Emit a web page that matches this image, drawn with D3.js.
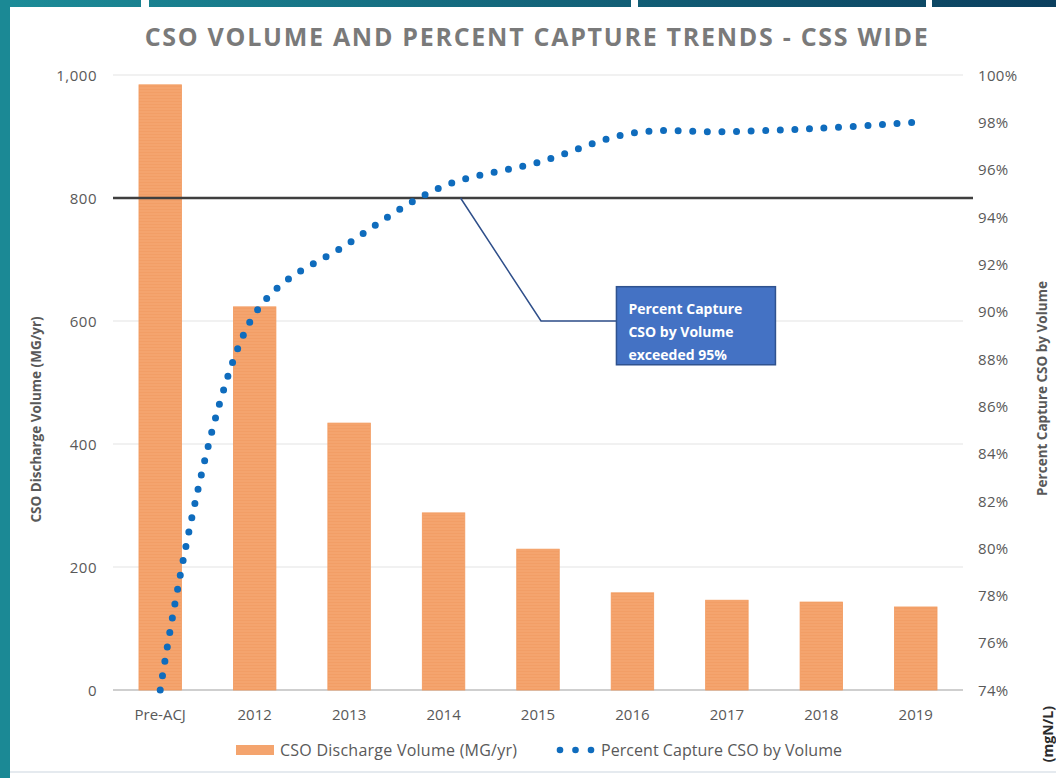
<!DOCTYPE html>
<html>
<head>
<meta charset="utf-8">
<script src="https://cdn.jsdelivr.net/npm/d3@7"></script>
<style>
  html, body { margin: 0; padding: 0; background: #fff; }
  svg text { font-family: 'Open Sans', sans-serif; }
</style>
</head>
<body>
<div id="root"></div>
<script>
// Data
const categories = ['Pre-ACJ', '2012', '2013', '2014', '2015', '2016', '2017', '2018', '2019'];
const volume = [984, 623, 434, 288, 229, 158, 146, 143, 135];
const capture = [74.0, 89.9, 92.9, 95.3, 96.3, 97.55, 97.6, 97.75, 98.0];
const volumeTicks = [0, 200, 400, 600, 800, 1000];
const captureTicks = [74, 76, 78, 80, 82, 84, 86, 88, 90, 92, 94, 96, 98, 100];
const thresholdVolume = 800;

// Variables
const width = 1056;
const height = 778;
const plot = { left: 113, right: 963, top: 75, bottom: 690 };
const barColor = '#f4a46e';
const dotColor = '#0f6cbd';
const textColor = '#595959';

const svg = d3.select('#root')
  .append('svg')
  .attr('width', width)
  .attr('height', height);

/**
 * Spread a text's letters so that it fills the given width
 */
function fitWidth(sel, target) {
  const len = sel.node().getComputedTextLength();
  const n = sel.text().length - 1;
  sel.style('letter-spacing', ((target - len) / n) + 'px');
}

// Scales
const x = d3.scaleBand()
  .domain(categories)
  .range([plot.left, plot.right])
  .paddingInner(0.55)
  .paddingOuter(0.275);
const xc = d => x(d) + x.bandwidth() / 2;

const yLeft = d3.scaleLinear().domain([0, 1000]).range([plot.bottom, plot.top]);
const yRight = d3.scaleLinear().domain([74, 100]).range([plot.bottom, plot.top]);

// Frame around the slide
const defs = svg.append('defs');
const grad = defs.append('linearGradient').attr('id', 'topbar');
grad.append('stop').attr('offset', '0%').attr('stop-color', '#1c8c98');
grad.append('stop').attr('offset', '100%').attr('stop-color', '#0b3f5e');

svg.append('rect').attr('x', 0).attr('y', 0).attr('width', width).attr('height', 7).attr('fill', 'url(#topbar)');
[[141, 8], [631, 7], [926, 6]].forEach(([gx, gw]) => {
  svg.append('rect').attr('x', gx).attr('y', 0).attr('width', gw).attr('height', 7).attr('fill', '#fff');
});
svg.append('rect').attr('x', 0).attr('y', 0).attr('width', 10).attr('height', height).attr('fill', '#1b8995');
svg.append('line')
  .attr('x1', 10).attr('x2', width).attr('y1', 772).attr('y2', 772)
  .attr('stroke', '#dde3ea').attr('stroke-width', 1.5);

// Bar texture
const pat = defs.append('pattern')
  .attr('id', 'stripes')
  .attr('patternUnits', 'userSpaceOnUse')
  .attr('width', 8).attr('height', 3);
pat.append('rect').attr('width', 8).attr('height', 3).attr('fill', barColor);
pat.append('rect').attr('y', 2).attr('width', 8).attr('height', 1).attr('fill', '#f09a60').attr('opacity', 0.6);

// Title
const title = svg.append('text')
  .attr('x', 537)
  .attr('y', 46)
  .attr('text-anchor', 'middle')
  .attr('fill', '#7a7a7a')
  .style('font-size', '25px')
  .style('font-weight', 'bold')
  .text('CSO VOLUME AND PERCENT CAPTURE TRENDS - CSS WIDE');
fitWidth(title, 783);

// Gridlines
svg.append('g')
  .selectAll('line')
  .data(volumeTicks)
  .enter()
    .append('line')
    .attr('x1', plot.left)
    .attr('x2', plot.right)
    .attr('y1', d => yLeft(d))
    .attr('y2', d => yLeft(d))
    .attr('stroke', d => d === 0 ? '#bfbfbf' : '#e3e3e3')
    .attr('stroke-width', d => d === 0 ? 1.5 : 1);

// Left axis
const leftAxis = svg.append('g')
  .attr('transform', `translate(${plot.left - 16},0)`)
  .call(d3.axisLeft(yLeft).tickValues(volumeTicks).tickSize(0).tickPadding(0).tickFormat(d3.format(',')));
leftAxis.select('.domain').remove();
leftAxis.selectAll('text')
  .attr('fill', textColor)
  .attr('dy', '0.35em')
  .style('font-size', '15px')
  .style('letter-spacing', '0.5px');

// Right axis
const rightAxis = svg.append('g')
  .attr('transform', `translate(${plot.right + 15},0)`)
  .call(d3.axisRight(yRight).tickValues(captureTicks).tickSize(0).tickPadding(0).tickFormat(d => d + '%'));
rightAxis.select('.domain').remove();
rightAxis.selectAll('text')
  .attr('fill', textColor)
  .attr('dy', '0.35em')
  .style('font-size', '15px')
  .style('letter-spacing', '0.3px');

// Bottom axis
const bottomAxis = svg.append('g')
  .attr('transform', `translate(0,${plot.bottom})`)
  .call(d3.axisBottom(x).tickSize(0).tickPadding(19));
bottomAxis.select('.domain').remove();
bottomAxis.selectAll('text')
  .attr('fill', textColor)
  .style('font-size', '15px');

// Axis titles
svg.append('text')
  .attr('transform', `translate(41,${(plot.top + plot.bottom) / 2 + 37}) rotate(-90)`)
  .attr('text-anchor', 'middle')
  .attr('fill', textColor)
  .style('font-size', '13.5px')
  .style('font-weight', 'bold')
  .text('CSO Discharge Volume (MG/yr)');

svg.append('text')
  .attr('transform', `translate(1047,${(plot.top + plot.bottom) / 2 + 6}) rotate(-90)`)
  .attr('text-anchor', 'middle')
  .attr('fill', textColor)
  .style('font-size', '13.5px')
  .style('font-weight', 'bold')
  .text('Percent Capture CSO by Volume');

// Text of the neighbouring chart at the edge
svg.append('text')
  .attr('transform', 'translate(1053,706) rotate(-90)')
  .attr('text-anchor', 'end')
  .attr('fill', '#2b2b2b')
  .style('font-size', '14px')
  .style('font-weight', 'bold')
  .text('(mgN/L)');

// Bars
svg.append('g')
  .selectAll('rect')
  .data(volume)
  .enter()
    .append('rect')
    .attr('x', (d, i) => x(categories[i]))
    .attr('y', d => yLeft(d))
    .attr('width', x.bandwidth())
    .attr('height', d => yLeft(0) - yLeft(d))
    .attr('fill', 'url(#stripes)')
    .attr('stroke', '#f29a5e')
    .attr('stroke-width', 0.8);

// Threshold line
svg.append('line')
  .attr('x1', plot.left)
  .attr('x2', plot.right + 10)
  .attr('y1', yLeft(thresholdVolume))
  .attr('y2', yLeft(thresholdVolume))
  .attr('stroke', '#3f3f3f')
  .attr('stroke-width', 2.5);

// Percent capture line (dotted, smoothed)
const line = d3.line()
  .x((d, i) => xc(categories[i]))
  .y(d => yRight(d))
  .curve(d3.curveCatmullRom.alpha(0.5));

svg.append('path')
  .datum(capture)
  .attr('d', line)
  .attr('fill', 'none')
  .attr('stroke', dotColor)
  .attr('stroke-width', 7)
  .attr('stroke-linecap', 'round')
  .attr('stroke-dasharray', '0 14.6');

// Callout
const anchorX = xc('2014') + 17;
const elbowX = xc('2015') + 3;
const boxLeft = xc('2016') - 16;
const boxRight = boxLeft + 159;
const elbowY = yRight(89.6);
const boxTop = yRight(91.05);
const boxBottom = yRight(87.75);

svg.append('polyline')
  .attr('points', [[anchorX, yLeft(thresholdVolume)], [elbowX, elbowY], [boxLeft, elbowY]].join(' '))
  .attr('fill', 'none')
  .attr('stroke', '#2f4f8a')
  .attr('stroke-width', 1.5);

svg.append('rect')
  .attr('x', boxLeft)
  .attr('y', boxTop)
  .attr('width', boxRight - boxLeft)
  .attr('height', boxBottom - boxTop)
  .attr('fill', '#4472c4')
  .attr('stroke', '#2f528f')
  .attr('stroke-width', 1.5);

svg.append('text')
  .attr('x', boxLeft + 12)
  .attr('y', boxTop + 27)
  .attr('fill', '#fff')
  .style('font-size', '14px')
  .style('font-weight', 'bold')
  .selectAll('tspan')
  .data(['Percent Capture', 'CSO by Volume', 'exceeded 95%'])
  .enter()
    .append('tspan')
    .attr('x', boxLeft + 12)
    .attr('dy', (d, i) => i === 0 ? 0 : 23)
    .text(d => d);

// Legend
const legend = svg.append('g').attr('transform', 'translate(0,750)');
legend.append('rect')
  .attr('x', 236).attr('y', -5)
  .attr('width', 38).attr('height', 10)
  .attr('fill', barColor);
const legendText1 = legend.append('text')
  .attr('x', 280).attr('y', 0).attr('dy', '0.35em')
  .attr('fill', textColor)
  .style('font-size', '16px')
  .text('CSO Discharge Volume (MG/yr)');
fitWidth(legendText1, 237);
legend.selectAll('circle')
  .data([0, 1, 2])
  .enter()
    .append('circle')
    .attr('cx', d => 560 + d * 15.5)
    .attr('cy', 0)
    .attr('r', 3.3)
    .attr('fill', dotColor);
const legendText2 = legend.append('text')
  .attr('x', 601).attr('y', 0).attr('dy', '0.35em')
  .attr('fill', textColor)
  .style('font-size', '16px')
  .text('Percent Capture CSO by Volume');
fitWidth(legendText2, 241);
</script>
</body>
</html>
